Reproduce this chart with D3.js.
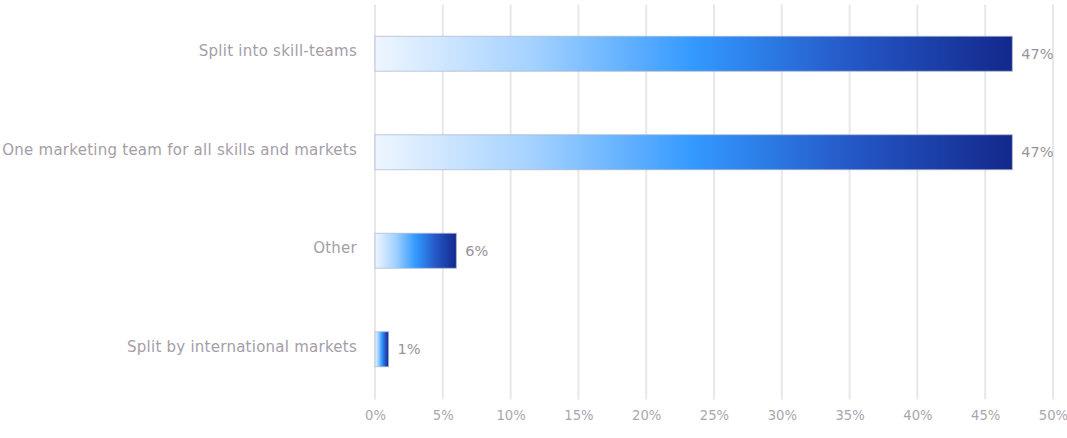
<!DOCTYPE html>
<html>
<head>
<meta charset="utf-8">
<script src="https://cdn.jsdelivr.net/npm/d3@7"></script>
<style>
  html, body { margin: 0; padding: 0; background: #ffffff; }
  svg { display: block; }
  svg text { font-family: "DejaVu Sans", "Noto Sans", sans-serif; }
</style>
</head>
<body>
<svg id="chart" width="1067" height="438"></svg>
<script>
// Team structure survey: share of respondents per answer
const categories = [
  "Split into skill-teams",
  "One marketing team for all skills and markets",
  "Other",
  "Split by international markets"
];
const shares = [47, 47, 6, 1];
const tickValues = [0, 5, 10, 15, 20, 25, 30, 35, 40, 45, 50];

const svg = d3.select("#chart");
const margin = { left: 375, right: 14, top: 4.5, bottom: 39.5 };
const width = 1067, height = 438;

const x = d3.scaleLinear()
  .domain([0, 50])
  .range([margin.left, width - margin.right]);

const y = d3.scaleBand()
  .domain(categories)
  .range([margin.top, height - margin.bottom])
  .paddingInner(0.645)
  .paddingOuter(0.3225);

// Horizontal gradient shared by each bar, stretched over its own width
const defs = svg.append("defs");
const grad = defs.append("linearGradient")
  .attr("id", "barFill")
  .attr("x1", "0%").attr("x2", "100%")
  .attr("y1", "0%").attr("y2", "0%");
[
  [0, "#eef6ff"],
  [0.25, "#a3d1ff"],
  [0.5, "#3399ff"],
  [0.75, "#2457c6"],
  [1, "#13288b"]
].forEach(([o, c]) => grad.append("stop").attr("offset", o).attr("stop-color", c));

// Vertical grid lines
svg.append("g")
  .selectAll("line")
  .data(tickValues)
  .join("line")
  .attr("x1", d => x(d)).attr("x2", d => x(d))
  .attr("y1", margin.top).attr("y2", height - margin.bottom + 1)
  .attr("stroke", "#e8e8e8")
  .attr("stroke-width", 2);

// Bottom axis labels
const xAxis = svg.append("g")
  .attr("transform", `translate(0, ${height - margin.bottom})`)
  .call(d3.axisBottom(x).tickValues(tickValues).tickFormat(d => d + "%").tickSize(0).tickPadding(12));
xAxis.select(".domain").remove();
xAxis.selectAll("text")
  .attr("fill", "#aca5af")
  .style("font-size", "13.2px");

// Category labels
const yAxis = svg.append("g")
  .attr("transform", `translate(${margin.left}, 0)`)
  .call(d3.axisLeft(y).tickSize(0).tickPadding(18));
yAxis.select(".domain").remove();
yAxis.selectAll("text")
  .attr("fill", "#a59da8")
  .attr("dy", "0.15em")
  .style("font-size", "15px")
  .style("letter-spacing", "0.25px");

// Bars
svg.append("g")
  .selectAll("rect")
  .data(categories)
  .join("rect")
  .attr("x", x(0))
  .attr("y", d => y(d))
  .attr("width", (d, i) => x(shares[i]) - x(0))
  .attr("height", y.bandwidth())
  .attr("fill", "url(#barFill)")
  .attr("stroke", "rgba(170,180,205,0.7)")
  .attr("stroke-width", 1);

// Value labels
svg.append("g")
  .selectAll("text")
  .data(categories)
  .join("text")
  .attr("x", (d, i) => x(shares[i]) + 9)
  .attr("y", d => y(d) + y.bandwidth() / 2)
  .attr("dy", "0.35em")
  .attr("fill", "#99939b")
  .style("font-size", "14.5px")
  .text((d, i) => shares[i] + "%");
</script>
</body>
</html>
